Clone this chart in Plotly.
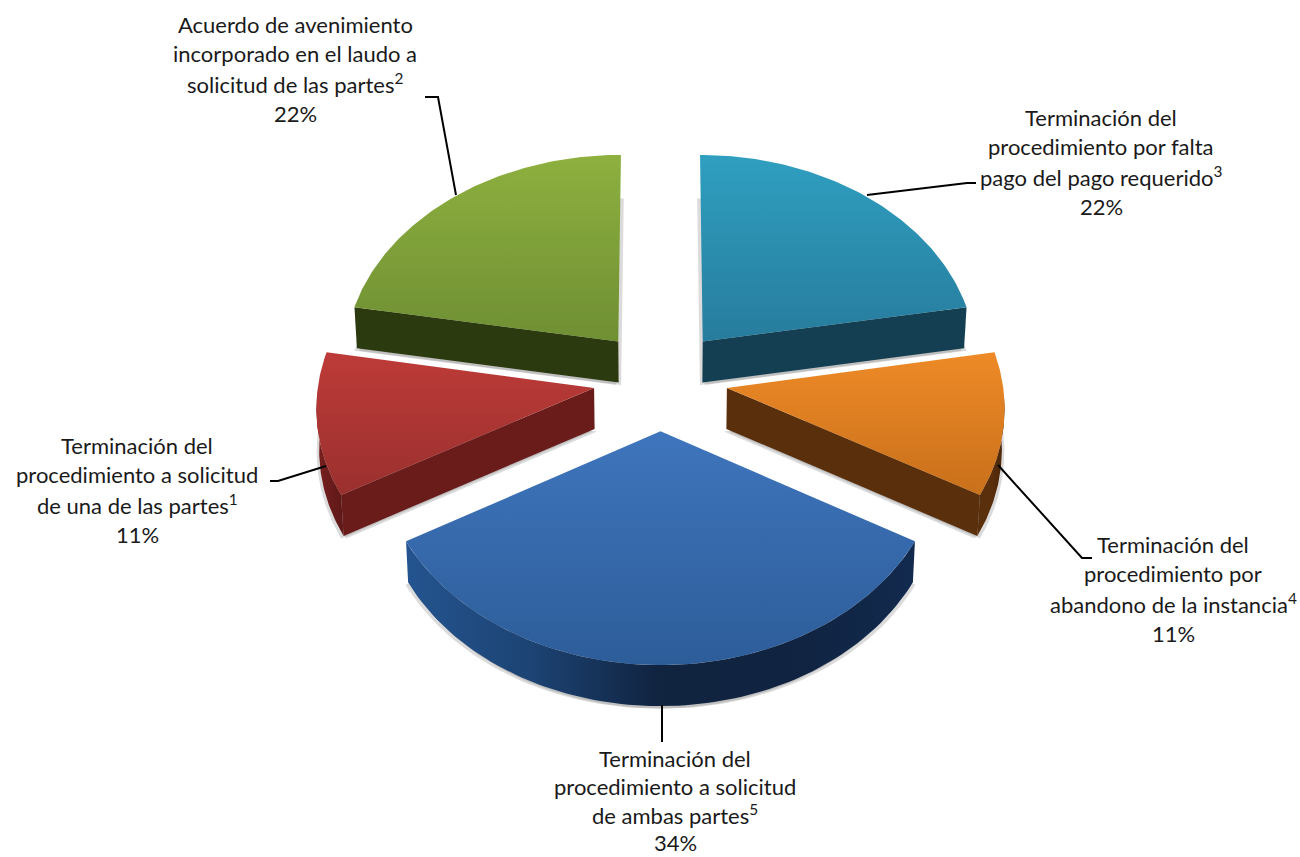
import numpy as np
import plotly.graph_objects as go

# ---- data (clockwise from 12 o'clock) ----
categories = ["teal", "orange", "blue", "red", "green"]
values = [22, 11, 34, 11, 22]
label_lines = [
    ["Terminación del", "procedimiento por falta", "pago del pago requerido<sup>3</sup>", "22%"],
    ["Terminación del", "procedimiento por", "abandono de la instancia<sup>4</sup>", "11%"],
    ["Terminación del", "procedimiento a solicitud", "de ambas partes<sup>5</sup>", "34%"],
    ["Terminación del", "procedimiento a solicitud", "de una de las partes<sup>1</sup>", "11%"],
    ["Acuerdo de avenimiento", "incorporado en el laudo a", "solicitud de las partes<sup>2</sup>", "22%"],
]
label_x = [1101, 1173, 675, 137, 295]
label_y = [117, 544, 758, 445, 24]
label_step = [29.8, 29.8, 28.3, 29.8, 29.8]
leaders = [
    ([867, 967, 976], [195, 183, 183]),
    ([998, 1082, 1092], [465, 558, 558]),
    ([662, 662], [705, 742]),
    ([326, 278, 270], [466, 481, 481]),
    ([456, 438, 425], [195, 97, 97]),
]
top_colors = [
    ["#2f9fc0", "#277c9d"], ["#ee8a27", "#c9701b"], ["#3f75bd", "#2d5d99"],
    ["#bd3b38", "#9a302e"], ["#8db03f", "#6f8f33"],
]
cut_colors = ["#143f52", "#5a2f0c", "#10243f", "#6a1c1b", "#2c3a10"]
wall_colors = [
    ["#143f52", "#143f52", "#143f52"], ["#5a2f0c", "#5a2f0c", "#4a260a"],
    ["#24548f", "#1c4373", "#10233f", "#102340", "#122a4e"], ["#7c2020", "#6a1c1b", "#5e1818"],
    ["#2c3a10", "#2c3a10", "#2c3a10"],
]
draw_order = [4, 0, 3, 1, 2]

# ---- projection of the tilted pie ----
CX, CY, A, B, P, PULL, DEPTH = 660.5, 383, 276, 207.7, 0.0682, 0.243, 41
APEX_UP = 3
LINE_WIDTH = 2


def project(X, Y, z=0.0):
    w = 1 + P * np.asarray(Y)
    k = 1 - 0.008 * z
    return CX + A * np.asarray(X) / w * k, CY - B * np.asarray(Y) / w + DEPTH * z


total = sum(values)
edges = np.concatenate([[0], np.cumsum(values)]) / total * 2 * np.pi


def wedge(i):
    t1, t2 = edges[i], edges[i + 1]
    mid = (t1 + t2) / 2
    ox, oy = PULL * np.sin(mid), PULL * np.cos(mid)
    t = np.linspace(t1, t2, 90)
    return ox, oy, t, ox + np.sin(t), oy + np.cos(t)


def poly(x, y, fill=None, grad=None):
    kw = dict(x=x, y=y, mode="lines", fill="toself", hoverinfo="skip", showlegend=False,
              line=dict(width=0, color="rgba(0,0,0,0)"))
    if grad:
        kw["fillgradient"] = grad
        kw["fillcolor"] = fill or "rgba(0,0,0,0)"
    else:
        kw["fillcolor"] = fill
    return go.Scatter(**kw)


def scale(colors):
    n = len(colors) - 1
    return [[j / n, c] for j, c in enumerate(colors)]


fig = go.Figure()
SHADOW = "rgba(90,90,90,0.22)"
for i in draw_order:
    ox, oy, t, X, Y = wedge(i)
    tx, ty = project(X, Y, 0)
    bx, by = project(X, Y, 1)
    ax0, ay0 = project(ox, oy, 0)
    ax1, ay1 = project(ox, oy, 1)
    ay0, ay1 = ay0 - APEX_UP, ay1 - APEX_UP
    # soft contact shadow around the bottom outline
    for dx in (-2.5, 2.5):
        fig.add_trace(poly(np.r_[ax1, bx, ax1] + dx, np.r_[ay1, by, ay1] + 2.5, fill=SHADOW))
    # flat cut faces
    if np.sin(t[-1]) > 0.01:
        fig.add_trace(poly([ax0, tx[-1], bx[-1], ax1], [ay0, ty[-1], by[-1], ay1], fill=cut_colors[i]))
    if np.sin(t[0]) < -0.01:
        fig.add_trace(poly([ax0, tx[0], bx[0], ax1], [ay0, ty[0], by[0], ay1], fill=cut_colors[i]))
    # outer wall
    front = np.cos(t) < 0
    if front.any():
        fig.add_trace(poly(np.r_[tx[front], bx[front][::-1]], np.r_[ty[front], by[front][::-1]],
                           grad=dict(type="horizontal", colorscale=scale(wall_colors[i]))))
    # top
    fig.add_trace(poly(np.r_[ax0, tx, ax0], np.r_[ay0, ty, ay0],
                       grad=dict(type="vertical", colorscale=scale(top_colors[i][::-1]))))

# leaders
for lx, ly in leaders:
    fig.add_trace(go.Scatter(x=lx, y=ly, mode="lines", hoverinfo="skip", showlegend=False,
                             line=dict(color="#000000", width=LINE_WIDTH)))

# labels, one annotation per line for exact leading
for lines, x0, y0, step in zip(label_lines, label_x, label_y, label_step):
    for j, txt in enumerate(lines):
        fig.add_annotation(x=x0, y=y0 + j * step, text=txt, showarrow=False,
                           xanchor="center", yanchor="middle", align="center",
                           font=dict(family="Lato", size=22, color="#1a1a1a"))

fig.update_layout(
    width=1300, height=857, margin=dict(l=0, r=0, t=0, b=0),
    paper_bgcolor="#ffffff", plot_bgcolor="#ffffff", showlegend=False,
    xaxis=dict(range=[0, 1300], visible=False, fixedrange=True),
    yaxis=dict(range=[857, 0], visible=False, fixedrange=True),
)
fig.write_html("out.html", config=dict(displayModeBar=False),
               post_script="document.body.style.margin='0';")
